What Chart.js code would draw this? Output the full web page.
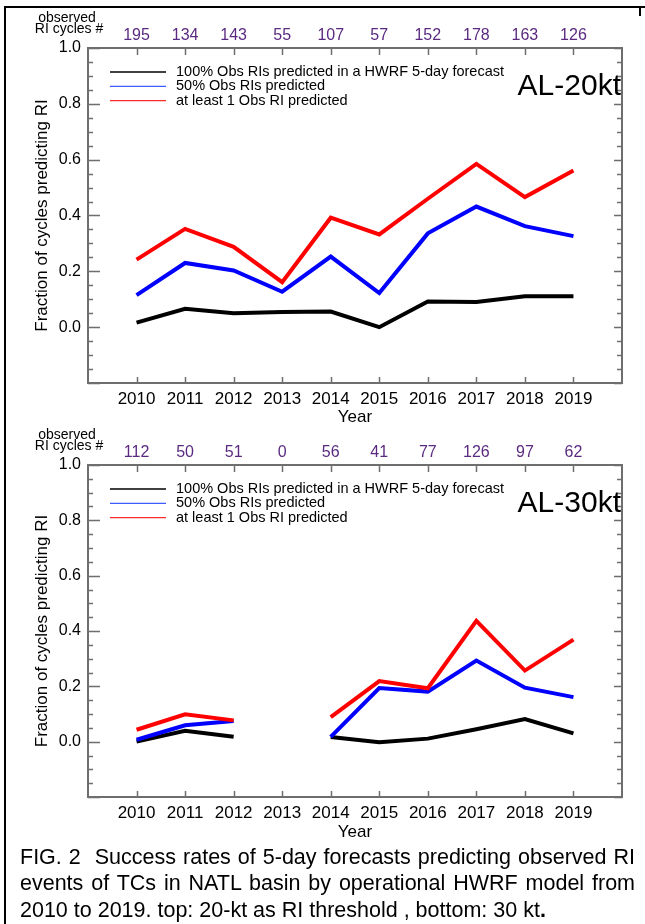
<!DOCTYPE html>
<html>
<head>
<meta charset="utf-8">
<script src="https://cdn.jsdelivr.net/npm/chart.js@4/dist/chart.umd.min.js"></script>
<style>
  html, body { margin: 0; padding: 0; background: #fff; }
  body { width: 645px; height: 924px; position: relative; overflow: hidden;
         font-family: "Liberation Sans", Arial, sans-serif; }
  canvas { position: absolute; left: 0; }
  .rule { position: absolute; background: #000; }
  .cap { position: absolute; left: 20px; width: 615px; font-size: 21.5px; line-height: 26px;
         color: #000; }
  .just { text-align: justify; text-align-last: justify; }
</style>
</head>
<body>
<div class="rule" style="left:4px;top:6px;width:641px;height:2px"></div>
<div class="rule" style="left:4px;top:6px;width:2px;height:918px"></div>
<div class="rule" style="left:639px;top:6px;width:2px;height:10px"></div>

<canvas id="top20" width="645" height="432" style="top:0"></canvas>
<canvas id="bot30" width="645" height="428" style="top:420px"></canvas>

<div class="cap just" style="top:844px">FIG. 2&nbsp; Success rates of 5-day forecasts predicting observed RI</div>
<div class="cap just" style="top:870px">events of TCs in NATL basin by operational HWRF model from</div>
<div class="cap" style="top:897px">2010 to 2019. top: 20-kt as RI threshold , bottom: 30 kt<b>.</b></div>

<script>
// Years on the x axis
const years = [2010, 2011, 2012, 2013, 2014, 2015, 2016, 2017, 2018, 2019];
// Left-axis tick labels
const yTicks = [0.0, 0.2, 0.4, 0.6, 0.8, 1.0];

// Number of observed RI cycles per year (printed above each panel)
const counts20 = [195, 134, 143, 55, 107, 57, 152, 178, 163, 126];
const counts30 = [112, 50, 51, 0, 56, 41, 77, 126, 97, 62];

// AL, 20-kt RI threshold
const all20  = [0.016, 0.066, 0.050, 0.054, 0.056, 0.000, 0.092, 0.090, 0.111, 0.111];
const half20 = [0.115, 0.230, 0.203, 0.127, 0.253, 0.122, 0.336, 0.432, 0.362, 0.326];
const one20  = [0.242, 0.352, 0.288, 0.161, 0.392, 0.332, 0.460, 0.585, 0.466, 0.561];

// AL, 30-kt RI threshold (no RI cycles in 2013)
const all30  = [0.000, 0.039, 0.018, null, 0.017, -0.002, 0.011, 0.045, 0.082, 0.030];
const half30 = [0.007, 0.059, 0.075, null, 0.017, 0.194, 0.181, 0.293, 0.195, 0.161];
const one30  = [0.043, 0.099, 0.077, null, 0.089, 0.219, 0.193, 0.437, 0.257, 0.369];

const seriesNames = [
  '100% Obs RIs predicted in a HWRF 5-day forecast',
  '50% Obs RIs predicted',
  'at least 1 Obs RI predicted'
];
const seriesColors = ['#000000', '#0000ff', '#ff0000'];
const legendColors = ['#000000', '#3f5cff', '#ff2a2a'];

const FONT = '"Liberation Sans", Arial, sans-serif';
const AXIS = '#6e6e6e';
const PURPLE = '#5a2a80';

// Inward ticks, plot frame and the annotations around each panel
const decor = {
  id: 'decor',
  beforeDatasetsDraw(chart, args, o) {
    const { ctx, chartArea: a, scales: { x, y } } = chart;
    ctx.save();
    ctx.strokeStyle = AXIS;
    ctx.lineWidth = 1.5;
    ctx.beginPath();
    for (let i = -4; i <= 20; i++) {
      const py = Math.round(y.getPixelForValue(i * 0.05)) + 0.5;
      const major = i % 4 === 0;
      ctx.moveTo(a.left, py); ctx.lineTo(a.left + (major ? 12 : 5), py);
      ctx.moveTo(a.right, py); ctx.lineTo(a.right - (major ? 8 : 5), py);
    }
    years.forEach(yr => {
      const px = Math.round(x.getPixelForValue(yr)) + 0.5;
      ctx.moveTo(px, a.top); ctx.lineTo(px, a.top + 7);
      ctx.moveTo(px, a.bottom); ctx.lineTo(px, a.bottom - 6);
    });
    ctx.stroke();
    ctx.lineWidth = 2;
    ctx.strokeRect(a.left, a.top, a.right - a.left, a.bottom - a.top);
    ctx.restore();
  },
  afterDraw(chart, args, o) {
    const { ctx, chartArea: a, scales: { x } } = chart;
    ctx.save();
    // header: observed RI cycle counts
    ctx.fillStyle = '#000';
    ctx.textAlign = 'center';
    ctx.textBaseline = 'middle';
    ctx.font = '14px ' + FONT;
    ctx.fillText('observed', 67, a.top - 30);
    ctx.fillText('RI cycles #', 69, a.top - 19);
    ctx.fillStyle = PURPLE;
    ctx.font = '16px ' + FONT;
    o.counts.forEach((c, i) => ctx.fillText(String(c), x.getPixelForValue(years[i]), a.top - 12));

    // legend
    ctx.textAlign = 'left';
    ctx.font = '14.5px ' + FONT;
    seriesNames.forEach((name, i) => {
      const ly = a.top + 24 + i * 14.3;
      ctx.strokeStyle = legendColors[i];
      ctx.lineWidth = 1.3;
      ctx.beginPath();
      ctx.moveTo(110, ly); ctx.lineTo(166, ly);
      ctx.stroke();
      ctx.fillStyle = '#000';
      ctx.fillText(name, 176, ly);
    });

    // panel tag
    ctx.textAlign = 'right';
    ctx.font = '30px ' + FONT;
    ctx.fillText(o.tag, a.right - 1, a.top + 39);
    ctx.restore();
  }
};

function buildPanel(id, cfg) {
  const series = [cfg.all, cfg.half, cfg.one];
  const datasets = series.map((vals, k) => ({
    label: seriesNames[k],
    data: years.map((yr, i) => ({ x: yr, y: vals[i] })),
    borderColor: seriesColors[k],
    backgroundColor: seriesColors[k],
    borderWidth: 4,
    pointRadius: 0,
    tension: 0,
    spanGaps: false,
    order: 2 - k
  }));

  new Chart(document.getElementById(id), {
    type: 'line',
    data: { datasets },
    options: {
      responsive: false,
      animation: false,
      devicePixelRatio: 1,
      layout: { padding: { top: cfg.areaTop, right: 23, left: 0, bottom: 0 } },
      plugins: {
        legend: { display: false },
        tooltip: { enabled: false },
        decor: { counts: cfg.counts, tag: cfg.tag }
      },
      scales: {
        x: {
          type: 'linear', min: 2009, max: 2020,
          grid: { display: false, drawTicks: false },
          border: { display: false },
          afterBuildTicks: s => { s.ticks = years.map(v => ({ value: v })); },
          afterFit: s => { s.height = cfg.xHeight; },
          ticks: { padding: 6, color: '#000', autoSkip: false, maxRotation: 0,
                   font: { family: FONT, size: 17 }, callback: v => String(v) },
          title: { display: true, text: 'Year', color: '#000',
                   font: { family: FONT, size: 17 }, padding: { top: 0, bottom: cfg.yearPad } }
        },
        y: {
          min: -0.2, max: 1.0,
          grid: { display: false, drawTicks: false },
          border: { display: false },
          afterBuildTicks: s => { s.ticks = yTicks.map(v => ({ value: v })); },
          afterFit: s => { s.width = 88; },
          ticks: { padding: 7, color: '#000', font: { family: FONT, size: 16 },
                   callback: v => v.toFixed(1) },
          title: { display: true, text: 'Fraction of cycles predicting RI', color: '#000',
                   font: { family: FONT, size: 17 }, padding: { top: 32, bottom: 0 } }
        }
      }
    },
    plugins: [decor]
  });
}

buildPanel('top20', { all: all20, half: half20, one: one20, counts: counts20, tag: 'AL-20kt',
                      areaTop: 48, xHeight: 49, yearPad: 4 });
buildPanel('bot30', { all: all30, half: half30, one: one30, counts: counts30, tag: 'AL-30kt',
                      areaTop: 45, xHeight: 51, yearPad: 5 });
</script>
</body>
</html>
